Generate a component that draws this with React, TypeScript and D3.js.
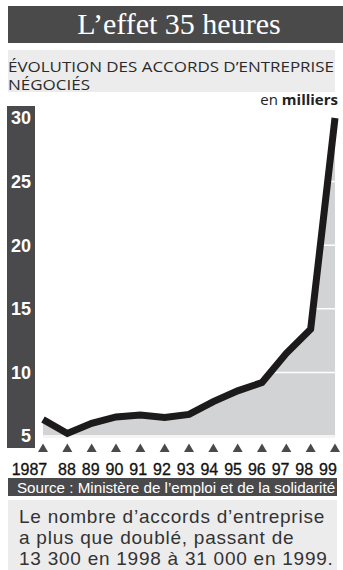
import React from "react";
import * as d3 from "d3";

const years = [1987, 1988, 1989, 1990, 1991, 1992, 1993, 1994, 1995, 1996, 1997, 1998, 1999];
const yearLabels = ["1987", "88", "89", "90", "91", "92", "93", "94", "95", "96", "97", "98", "99"];
const accords = [6.3, 5.2, 6.0, 6.5, 6.65, 6.45, 6.7, 7.7, 8.55, 9.2, 11.5, 13.4, 30.0];
const yTicks = [5, 10, 15, 20, 25, 30];

const title = "L\u2019effet 35 heures";
const subtitle = ["ÉVOLUTION DES ACCORDS D\u2019ENTREPRISE", "NÉGOCIÉS"];
const source = "Source : Ministère de l\u2019emploi et de la solidarité";
const note = [
  "Le nombre d\u2019accords d\u2019entreprise",
  "a plus que doublé, passant de",
  "13 300 en 1998 à 31 000 en 1999.",
];

export default function App() {
  const W = 343, H = 570;
  const x = d3.scaleLinear().domain([1987, 1999]).range([43, 335]);
  const y = d3.scaleLinear().domain([5, 30]).range([436, 118]);
  const xl = d3.scaleLinear().domain([1988, 1999]).range([67, 328]);
  const pts = years.map((yr, i) => [yr, accords[i]] as [number, number]);
  const line = d3.line<[number, number]>().x(d => x(d[0])).y(d => y(d[1]));
  const area = d3.area<[number, number]>().x(d => x(d[0])).y0(y(4.9)).y1(d => y(d[1]));
  const sans = "'Liberation Sans', Arial, Helvetica, sans-serif";
  const open = "'Open Sans', 'Noto Sans', sans-serif";
  return (
    <svg width={W} height={H} style={{ position: "absolute", left: 0, top: 0, display: "block", background: "#fff" }}>
      {/* title */}
      <rect x={8} y={6} width={335} height={37} fill="#4a4a4b" />
      <text x={179} y={34} textAnchor="middle" fill="#fff" fontFamily="'Liberation Serif', 'DejaVu Serif', serif" fontSize={30}>{title}</text>
      {/* subtitle */}
      <rect x={8} y={50} width={327} height={42} fill="#ececec" />
      <text x={8} y={71.5} fill="#2a2a2a" fontFamily={open} fontSize={15} textLength={326} lengthAdjust="spacingAndGlyphs">{subtitle[0]}</text>
      <text x={8} y={90} fill="#2a2a2a" fontFamily={open} fontSize={15} textLength={82} lengthAdjust="spacingAndGlyphs">{subtitle[1]}</text>
      <text x={338} y={105} textAnchor="end" fill="#222" fontFamily={open} fontSize={15}>
        en <tspan fontWeight="bold">milliers</tspan>
      </text>
      {/* left band */}
      <rect x={7} y={106} width={28} height={342} fill="#4a4a4c" />
      {yTicks.map(t => (
        <text key={t} x={31} y={y(t)} dy="0.36em" textAnchor="end" fill="#fff" fontFamily={sans} fontWeight="bold" fontSize={18}>{t}</text>
      ))}
      {/* area */}
      <path d={area(pts) || ""} fill="#d2d3d5" />
      {yTicks.slice(0, 5).map(t => (
        <line key={t} x1={x(1987)} x2={x(1999) + 3} y1={y(t)} y2={y(t)} stroke="#fff" strokeWidth={1.5} />
      ))}
      <path d={line(pts) || ""} fill="none" stroke="#1c1a1a" strokeWidth={7} strokeLinejoin="miter" strokeLinecap="butt" />
      {/* triangles */}
      {years.map(yr => (
        <path key={yr} d={`M${x(yr) - 5},452 L${x(yr) + 5},452 L${x(yr)},443.5 Z`} fill="#4a4a4c" />
      ))}
      {/* year labels */}
      {years.map((yr, i) => (
        <text key={yr} x={i === 0 ? xl(1987) + 4 : xl(yr)} y={475} textAnchor={i === 0 ? "end" : "middle"} fill="#111" stroke="#111" strokeWidth={0.3} fontFamily={sans} fontSize={16}>{yearLabels[i]}</text>
      ))}
      {/* source */}
      <rect x={8} y={478} width={329} height={18} fill="#4a4a4c" />
      <text x={176} y={492.5} textAnchor="middle" fill="#fff" fontFamily={sans} fontSize={15.2}>{source}</text>
      {/* note */}
      <rect x={8} y={500} width={329} height={70} fill="#ececec" />
      {note.map((s, i) => (
        <text key={i} x={19} y={523 + i * 21} fill="#333" fontFamily={sans} fontSize={19} letterSpacing={0.75}>{s}</text>
      ))}
    </svg>
  );
}
